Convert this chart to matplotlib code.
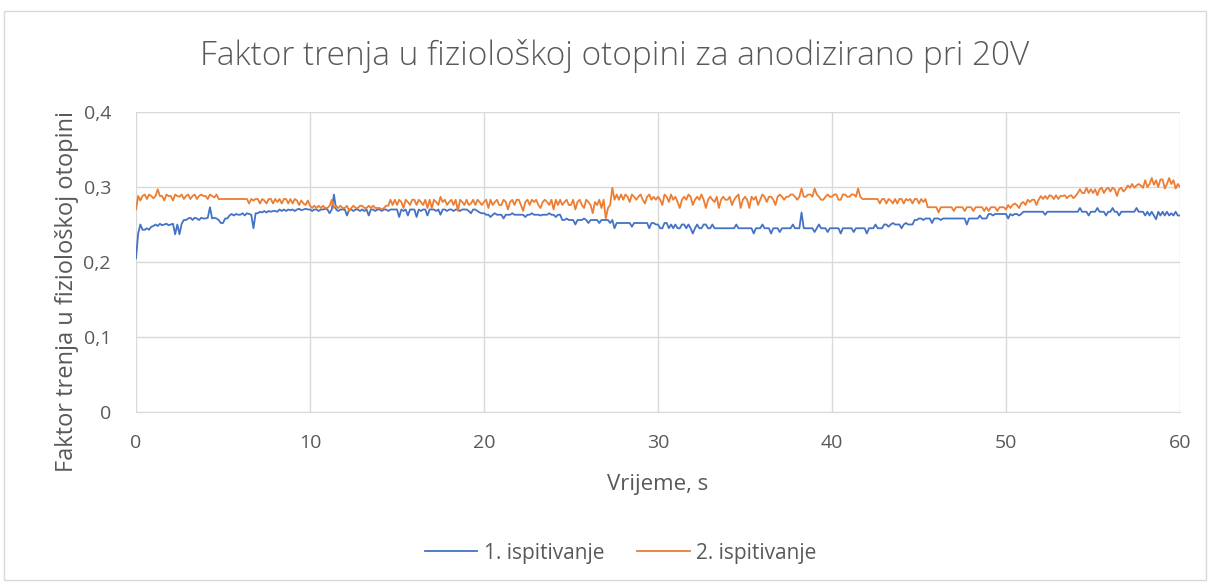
import numpy as np
import matplotlib
matplotlib.use("Agg")
import matplotlib.pyplot as plt
from matplotlib.patches import Rectangle
from matplotlib.ticker import FuncFormatter

# Friction factor readings, 8 samples per second over 60 s
SAMPLE_STEP = 0.125

test_1 = [
    0.205, 0.238, 0.250, 0.243, 0.243, 0.245, 0.243, 0.247,
    0.248, 0.250, 0.248, 0.251, 0.249, 0.250, 0.251, 0.249,
    0.250, 0.251, 0.237, 0.250, 0.237, 0.251, 0.256, 0.256,
    0.258, 0.259, 0.256, 0.259, 0.258, 0.256, 0.259, 0.258,
    0.258, 0.259, 0.273, 0.258, 0.259, 0.258, 0.256, 0.252,
    0.252, 0.258, 0.258, 0.262, 0.264, 0.262, 0.264, 0.263,
    0.263, 0.265, 0.262, 0.265, 0.264, 0.263, 0.245, 0.265,
    0.265, 0.267, 0.266, 0.268, 0.266, 0.268, 0.267, 0.268,
    0.268, 0.267, 0.270, 0.268, 0.270, 0.268, 0.270, 0.269,
    0.270, 0.268, 0.270, 0.271, 0.269, 0.270, 0.271, 0.270,
    0.270, 0.268, 0.270, 0.270, 0.268, 0.270, 0.270, 0.271,
    0.270, 0.265, 0.270, 0.290, 0.270, 0.268, 0.270, 0.270,
    0.270, 0.262, 0.270, 0.270, 0.268, 0.270, 0.270, 0.268,
    0.270, 0.268, 0.270, 0.262, 0.270, 0.270, 0.268, 0.270,
    0.270, 0.268, 0.270, 0.270, 0.268, 0.270, 0.270, 0.270,
    0.270, 0.260, 0.270, 0.268, 0.270, 0.262, 0.270, 0.270,
    0.270, 0.260, 0.270, 0.268, 0.270, 0.270, 0.262, 0.270,
    0.270, 0.270, 0.268, 0.270, 0.263, 0.270, 0.270, 0.268,
    0.270, 0.270, 0.268, 0.270, 0.270, 0.268, 0.270, 0.270,
    0.270, 0.268, 0.265, 0.270, 0.270, 0.268, 0.266, 0.265,
    0.265, 0.263, 0.263, 0.260, 0.263, 0.265, 0.263, 0.263,
    0.263, 0.258, 0.263, 0.263, 0.263, 0.265, 0.263, 0.263,
    0.263, 0.263, 0.263, 0.260, 0.263, 0.263, 0.265, 0.263,
    0.263, 0.263, 0.262, 0.263, 0.263, 0.263, 0.265, 0.263,
    0.263, 0.260, 0.263, 0.263, 0.256, 0.256, 0.258, 0.256,
    0.256, 0.256, 0.250, 0.256, 0.256, 0.256, 0.258, 0.256,
    0.252, 0.256, 0.256, 0.256, 0.256, 0.252, 0.256, 0.256,
    0.256, 0.256, 0.252, 0.256, 0.245, 0.252, 0.252, 0.252,
    0.252, 0.252, 0.252, 0.252, 0.247, 0.252, 0.252, 0.252,
    0.252, 0.252, 0.252, 0.252, 0.245, 0.252, 0.252, 0.250,
    0.250, 0.245, 0.245, 0.252, 0.252, 0.245, 0.250, 0.245,
    0.250, 0.245, 0.245, 0.250, 0.250, 0.245, 0.250, 0.245,
    0.238, 0.245, 0.250, 0.245, 0.245, 0.250, 0.250, 0.245,
    0.245, 0.250, 0.245, 0.245, 0.245, 0.245, 0.245, 0.245,
    0.245, 0.245, 0.245, 0.245, 0.250, 0.245, 0.245, 0.245,
    0.245, 0.245, 0.245, 0.245, 0.238, 0.245, 0.245, 0.245,
    0.250, 0.245, 0.245, 0.245, 0.238, 0.245, 0.245, 0.245,
    0.240, 0.245, 0.245, 0.245, 0.245, 0.245, 0.250, 0.245,
    0.245, 0.245, 0.266, 0.245, 0.245, 0.245, 0.245, 0.245,
    0.240, 0.245, 0.250, 0.245, 0.245, 0.245, 0.240, 0.245,
    0.245, 0.245, 0.245, 0.245, 0.238, 0.245, 0.245, 0.245,
    0.245, 0.245, 0.240, 0.245, 0.245, 0.245, 0.245, 0.245,
    0.238, 0.245, 0.245, 0.245, 0.250, 0.245, 0.245, 0.245,
    0.250, 0.250, 0.247, 0.250, 0.252, 0.250, 0.250, 0.250,
    0.245, 0.250, 0.252, 0.250, 0.250, 0.250, 0.256, 0.256,
    0.258, 0.258, 0.256, 0.258, 0.258, 0.258, 0.252, 0.258,
    0.258, 0.258, 0.256, 0.258, 0.258, 0.258, 0.258, 0.258,
    0.258, 0.258, 0.258, 0.258, 0.258, 0.258, 0.250, 0.258,
    0.258, 0.258, 0.258, 0.258, 0.262, 0.258, 0.258, 0.258,
    0.264, 0.264, 0.262, 0.264, 0.264, 0.264, 0.264, 0.264,
    0.264, 0.258, 0.264, 0.262, 0.264, 0.264, 0.262, 0.264,
    0.267, 0.267, 0.267, 0.267, 0.267, 0.267, 0.267, 0.267,
    0.267, 0.267, 0.263, 0.267, 0.267, 0.267, 0.267, 0.267,
    0.267, 0.267, 0.267, 0.267, 0.267, 0.267, 0.267, 0.267,
    0.267, 0.267, 0.272, 0.267, 0.267, 0.267, 0.262, 0.267,
    0.267, 0.267, 0.272, 0.267, 0.267, 0.267, 0.262, 0.267,
    0.267, 0.272, 0.267, 0.267, 0.262, 0.267, 0.267, 0.267,
    0.267, 0.267, 0.267, 0.267, 0.272, 0.267, 0.267, 0.267,
    0.262, 0.267, 0.262, 0.267, 0.262, 0.257, 0.267, 0.262,
    0.267, 0.262, 0.267, 0.262, 0.265, 0.262, 0.267, 0.262,
    0.262,
]

test_2 = [
    0.270, 0.288, 0.282, 0.288, 0.290, 0.284, 0.290, 0.288,
    0.285, 0.288, 0.297, 0.288, 0.288, 0.282, 0.290, 0.288,
    0.288, 0.282, 0.290, 0.288, 0.287, 0.290, 0.284, 0.288,
    0.290, 0.284, 0.288, 0.290, 0.284, 0.288, 0.290, 0.288,
    0.288, 0.284, 0.290, 0.288, 0.286, 0.290, 0.284, 0.284,
    0.284, 0.284, 0.284, 0.284, 0.284, 0.284, 0.284, 0.284,
    0.284, 0.284, 0.284, 0.284, 0.278, 0.284, 0.282, 0.284,
    0.284, 0.278, 0.284, 0.282, 0.278, 0.284, 0.284, 0.278,
    0.284, 0.280, 0.284, 0.278, 0.284, 0.284, 0.278, 0.284,
    0.278, 0.284, 0.282, 0.276, 0.282, 0.278, 0.276, 0.282,
    0.275, 0.272, 0.275, 0.272, 0.275, 0.272, 0.275, 0.272,
    0.272, 0.275, 0.283, 0.272, 0.275, 0.272, 0.275, 0.272,
    0.272, 0.275, 0.268, 0.272, 0.275, 0.272, 0.272, 0.275,
    0.275, 0.272, 0.272, 0.275, 0.272, 0.275, 0.272, 0.272,
    0.272, 0.270, 0.272, 0.275, 0.275, 0.283, 0.276, 0.283,
    0.276, 0.283, 0.280, 0.272, 0.283, 0.280, 0.276, 0.283,
    0.283, 0.276, 0.283, 0.280, 0.276, 0.283, 0.272, 0.283,
    0.272, 0.283, 0.280, 0.276, 0.287, 0.280, 0.283, 0.276,
    0.280, 0.283, 0.276, 0.283, 0.268, 0.283, 0.280, 0.276,
    0.283, 0.276, 0.278, 0.283, 0.276, 0.283, 0.280, 0.276,
    0.280, 0.283, 0.272, 0.283, 0.276, 0.280, 0.283, 0.276,
    0.276, 0.283, 0.280, 0.270, 0.280, 0.283, 0.276, 0.283,
    0.283, 0.276, 0.268, 0.280, 0.283, 0.276, 0.283, 0.280,
    0.283, 0.276, 0.272, 0.280, 0.283, 0.280, 0.276, 0.283,
    0.270, 0.283, 0.276, 0.283, 0.276, 0.280, 0.283, 0.276,
    0.276, 0.283, 0.270, 0.280, 0.283, 0.276, 0.272, 0.283,
    0.280, 0.276, 0.265, 0.280, 0.276, 0.283, 0.272, 0.283,
    0.258, 0.272, 0.276, 0.299, 0.283, 0.290, 0.283, 0.290,
    0.283, 0.290, 0.287, 0.280, 0.290, 0.287, 0.283, 0.287,
    0.290, 0.283, 0.278, 0.287, 0.290, 0.283, 0.287, 0.283,
    0.287, 0.283, 0.276, 0.290, 0.287, 0.280, 0.290, 0.283,
    0.287, 0.280, 0.272, 0.283, 0.287, 0.283, 0.290, 0.287,
    0.276, 0.283, 0.287, 0.283, 0.290, 0.283, 0.272, 0.283,
    0.287, 0.283, 0.280, 0.287, 0.272, 0.283, 0.287, 0.283,
    0.283, 0.287, 0.276, 0.283, 0.287, 0.290, 0.272, 0.283,
    0.287, 0.283, 0.272, 0.287, 0.283, 0.287, 0.276, 0.283,
    0.290, 0.287, 0.280, 0.287, 0.287, 0.283, 0.276, 0.287,
    0.290, 0.287, 0.283, 0.287, 0.287, 0.290, 0.290, 0.287,
    0.283, 0.287, 0.298, 0.287, 0.287, 0.290, 0.290, 0.287,
    0.298, 0.290, 0.287, 0.283, 0.283, 0.287, 0.290, 0.287,
    0.287, 0.290, 0.290, 0.283, 0.283, 0.290, 0.290, 0.287,
    0.287, 0.290, 0.290, 0.287, 0.298, 0.287, 0.284, 0.284,
    0.284, 0.284, 0.284, 0.284, 0.284, 0.284, 0.278, 0.284,
    0.284, 0.278, 0.284, 0.282, 0.278, 0.284, 0.278, 0.284,
    0.284, 0.278, 0.284, 0.282, 0.284, 0.278, 0.284, 0.284,
    0.278, 0.284, 0.280, 0.284, 0.273, 0.273, 0.273, 0.273,
    0.273, 0.266, 0.273, 0.273, 0.273, 0.273, 0.273, 0.273,
    0.268, 0.273, 0.273, 0.273, 0.273, 0.268, 0.273, 0.273,
    0.273, 0.268, 0.273, 0.273, 0.273, 0.273, 0.268, 0.273,
    0.268, 0.273, 0.273, 0.273, 0.268, 0.273, 0.273, 0.273,
    0.270, 0.276, 0.272, 0.276, 0.278, 0.276, 0.272, 0.278,
    0.280, 0.276, 0.283, 0.280, 0.283, 0.283, 0.276, 0.283,
    0.288, 0.284, 0.288, 0.284, 0.289, 0.288, 0.284, 0.289,
    0.284, 0.288, 0.288, 0.289, 0.285, 0.288, 0.289, 0.285,
    0.288, 0.292, 0.297, 0.292, 0.292, 0.299, 0.292, 0.297,
    0.292, 0.297, 0.289, 0.297, 0.299, 0.292, 0.297, 0.299,
    0.294, 0.299, 0.297, 0.288, 0.297, 0.299, 0.294, 0.297,
    0.302, 0.299, 0.304, 0.299, 0.302, 0.304, 0.302, 0.299,
    0.309, 0.300, 0.304, 0.312, 0.303, 0.309, 0.300, 0.310,
    0.310, 0.298, 0.304, 0.312, 0.304, 0.309, 0.298, 0.304,
    0.300,
]

labels = ["1. ispitivanje", "2. ispitivanje"]
y_ticks = [0, 0.1, 0.2, 0.3, 0.4]
x_ticks = [0, 10, 20, 30, 40, 50, 60]

TEXT = "#595959"
GRID = "#d9d9d9"
BLUE = "#4472c4"
ORANGE = "#ed7d31"

plt.rcParams["font.family"] = ["Open Sans", "DejaVu Sans"]

W, H = 1210, 584
fig = plt.figure(figsize=(W / 100, H / 100), dpi=100)

# chart area border
fig.patches.append(Rectangle((4 / W, 4 / H), 1202 / W, 569 / H, transform=fig.transFigure,
                             fill=False, edgecolor=GRID, linewidth=1.0))

ax = fig.add_axes([136 / W, 1 - 412 / H, 1044 / W, 300 / H])

t = np.arange(len(test_1)) * SAMPLE_STEP
ax.plot(t, test_1, color=BLUE, linewidth=1.3, label=labels[0], zorder=3)
ax.plot(t, test_2, color=ORANGE, linewidth=1.3, label=labels[1], zorder=4)

ax.set_xlim(0, 60)
ax.set_ylim(0, 0.4)
ax.set_xticks(x_ticks)
ax.set_yticks(y_ticks)
ax.yaxis.set_major_formatter(FuncFormatter(lambda v, _: ("%g" % round(v, 1)).replace(".", ",")))
ax.grid(True, color=GRID, linewidth=1.0)
ax.set_axisbelow(True)
for side in ["top", "right", "left"]:
    ax.spines[side].set_visible(False)
ax.spines["bottom"].set_color(GRID)
ax.tick_params(length=0, labelsize=14, labelcolor=TEXT)
ax.tick_params(axis="y", pad=18)
ax.tick_params(axis="x", pad=16)

ax.set_xlabel("Vrijeme, s", fontsize=16, color=TEXT, labelpad=16)
ax.set_ylabel("Faktor trenja u fiziološkoj otopini", fontsize=17, color=TEXT)
ax.yaxis.set_label_coords(-0.055, 0.40)

fig.text(0.508, 1 - 56 / H, "Faktor trenja u fiziološkoj otopini za anodizirano pri 20V",
         ha="center", va="center", fontsize=24, color=TEXT, fontweight="light")

fig.legend(loc="center", bbox_to_anchor=(0.513, 1 - 553 / H), ncol=2, frameon=False,
           fontsize=15, labelcolor=TEXT, handlelength=2.5, handletextpad=0.3, columnspacing=1.6)

fig.savefig("out.png", dpi=100)
